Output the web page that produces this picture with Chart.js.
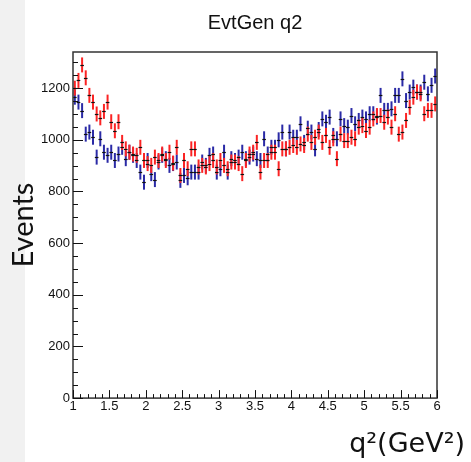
<!DOCTYPE html>
<html>
<head>
<meta charset="utf-8">
<script src="https://cdn.jsdelivr.net/npm/chart.js@4"></script>
<style>
  html, body { margin: 0; padding: 0; background: #fff; }
  #wrap { width: 471px; height: 462px; }
</style>
</head>
<body>
<div id="wrap"><canvas id="myChart" width="471" height="462"></canvas></div>
<script>
// histogram binning: 100 bins from 1 to 6 GeV^2
const xMin = 1, xMax = 6, nBins = 100;
const binWidth = (xMax - xMin) / nBins;

// bin contents
const redCounts = [
  1200, 1230, 1290, 1240, 1172, 1146, 1100, 1085, 1110, 1146, 1070, 1035, 1070, 990, 965, 952, 945,
  940, 971, 920, 908, 901, 933, 920, 945, 920, 952, 910, 971, 862, 920, 888, 965,
  965, 895, 901, 895, 908, 920, 895, 920, 901, 888, 914, 914, 908, 869, 920, 945, 952, 990,
  875, 920, 920, 952, 952, 888, 965, 965, 971, 978, 971, 984, 978, 1022, 990, 1010, 1030,
  990, 1017, 971, 1004, 927, 1022, 997, 997, 1010, 1004, 1049, 1055, 1036, 1049, 1081, 1094, 1094,
  1068, 1088, 1049, 1101, 1022, 1030, 1075, 1126, 1165, 1185, 1178, 1101, 1114, 1114, 1139
];
const blueCounts = [
  1165, 1146, 1113, 1022, 1030, 1010, 933, 1004, 952, 940, 952, 920, 945, 971, 927, 952, 940,
  920, 875, 836, 920, 869, 846, 914, 940, 927, 901, 908, 914, 843, 862, 853, 875,
  875, 875, 914, 901, 940, 945, 875, 888, 952, 875, 927, 920, 933, 952, 927, 933, 945, 927,
  920, 1004, 945, 971, 971, 1000, 1030, 965, 1030, 1010, 1010, 1062, 990, 1045, 1030, 965, 1040,
  1081, 1068, 1088, 1017, 1004, 1081, 1055, 1049, 1094, 1062, 1075, 1088, 1081, 1101, 1101, 1088, 1172,
  1114, 1114, 1120, 1172, 1172, 1236, 1152, 1185, 1204, 1185, 1185, 1223, 1178, 1211, 1247
];
const errSize = 29; // approx half length of the error bars

const xTickLabels = ['1', '1.5', '2', '2.5', '3', '3.5', '4', '4.5', '5', '5.5', '6'];
const yTickLabels = ['0', '200', '400', '600', '800', '1000', '1200'];

const binCenters = [];
for (let i = 0; i < nBins; i++) binCenters.push(xMin + (i + 0.5) * binWidth);

const toPoints = arr => arr.map((v, i) => ({ x: binCenters[i], y: v }));

// grey strip at the left edge (slide background)
const bgPlugin = {
  id: 'bg',
  beforeDraw(chart) {
    const c = chart.ctx;
    c.save();
    c.fillStyle = '#f1f1f1';
    c.fillRect(0, 0, 25, chart.height);
    c.restore();
  }
};

// vertical error bars + black bin markers
const errorBars = {
  id: 'errorBars',
  afterDatasetsDraw(chart) {
    const c = chart.ctx;
    const xs = chart.scales.x, ys = chart.scales.y;
    const a = chart.chartArea;
    c.save();
    c.beginPath();
    c.rect(a.left, a.top, a.right - a.left, a.bottom - a.top);
    c.clip();
    chart.data.datasets.forEach(ds => {
      c.strokeStyle = ds.borderColor;
      c.lineWidth = 2;
      ds.data.forEach(p => {
        const px = xs.getPixelForValue(p.x);
        c.beginPath();
        c.moveTo(px, ys.getPixelForValue(p.y - errSize));
        c.lineTo(px, ys.getPixelForValue(p.y + errSize));
        c.stroke();
      });
    });
    c.strokeStyle = '#111';
    c.lineWidth = 1.2;
    chart.data.datasets.forEach(ds => {
      ds.data.forEach(p => {
        const py = Math.round(ys.getPixelForValue(p.y)) + 0.5;
        c.beginPath();
        c.moveTo(xs.getPixelForValue(p.x - binWidth / 2), py);
        c.lineTo(xs.getPixelForValue(p.x + binWidth / 2), py);
        c.stroke();
      });
    });
    c.restore();
  }
};

// ROOT-like frame with inward ticks
const framePlugin = {
  id: 'frame',
  afterDraw(chart) {
    const c = chart.ctx;
    const xs = chart.scales.x, ys = chart.scales.y;
    const a = chart.chartArea;
    c.save();
    c.strokeStyle = '#333';
    c.lineWidth = 1.5;
    c.strokeRect(a.left, a.top, a.right - a.left, a.bottom - a.top);
    c.strokeStyle = '#111';
    c.lineWidth = 1;
    for (let k = 0; k <= 50; k++) {
      const v = xMin + k * 0.1;
      const px = Math.round(xs.getPixelForValue(v)) + 0.5;
      const len = k % 5 === 0 ? 8 : 4;
      c.beginPath();
      c.moveTo(px, a.bottom);
      c.lineTo(px, a.bottom - len);
      c.stroke();
    }
    for (let v = 0; v <= 1300; v += 50) {
      const py = Math.round(ys.getPixelForValue(v)) + 0.5;
      const len = v % 200 === 0 ? 10 : 5;
      c.beginPath();
      c.moveTo(a.left, py);
      c.lineTo(a.left + len, py);
      c.stroke();
    }
    c.restore();
  }
};

const ctx = document.getElementById('myChart');
const myChart = new Chart(ctx, {
  type: 'scatter',
  data: {
    datasets: [
      { label: 'blue', data: toPoints(blueCounts), borderColor: '#2a2aa6', backgroundColor: '#2a2aa6', pointRadius: 0 },
      { label: 'red', data: toPoints(redCounts), borderColor: '#fb2424', backgroundColor: '#fb2424', pointRadius: 0 }
    ]
  },
  options: {
    responsive: false,
    animation: false,
    layout: { padding: { left: 0, right: 6, top: 0, bottom: 0 } },
    plugins: {
      legend: { display: false },
      tooltip: { enabled: false },
      title: {
        display: true,
        text: 'EvtGen q2',
        fullSize: false,
        color: '#111',
        font: { family: 'Liberation Sans', size: 20, weight: 'normal' },
        padding: { top: 11, bottom: 17 }
      },
      subtitle: {
        display: true,
        text: 'q²(GeV²)',
        position: 'bottom',
        align: 'end',
        color: '#111',
        font: { family: 'DejaVu Sans', size: 27, weight: 'normal' },
        padding: { top: 0, bottom: 1 }
      }
    },
    scales: {
      x: {
        type: 'linear',
        min: xMin,
        max: xMax,
        grid: { display: false, drawTicks: false },
        border: { display: false },
        ticks: {
          stepSize: 0.5,
          maxRotation: 0,
          padding: 1,
          color: '#111',
          font: { family: 'Liberation Sans', size: 13 },
          callback: (v, i) => xTickLabels[i]
        },
        afterFit(scale) { scale.height = 30.5; }
      },
      y: {
        type: 'linear',
        min: 0,
        max: 1340,
        grid: { display: false, drawTicks: false },
        border: { display: false },
        ticks: {
          stepSize: 200,
          includeBounds: false,
          padding: 3,
          color: '#111',
          font: { family: 'Liberation Sans', size: 13 },
          callback: (v, i) => yTickLabels[i]
        },
        title: {
          display: true,
          text: 'Events',
          color: '#111',
          font: { family: 'Lato', size: 29, weight: 'normal' },
          padding: { top: 6, bottom: 0 }
        },
        afterFit(scale) { scale.width = 73; }
      },
      yR: {
        type: 'linear',
        position: 'right',
        display: true,
        grid: { display: false, drawTicks: false },
        border: { display: false },
        ticks: { display: false },
        afterFit(scale) { scale.width = 28; }
      }
    }
  },
  plugins: [bgPlugin, errorBars, framePlugin]
});
</script>
</body>
</html>
